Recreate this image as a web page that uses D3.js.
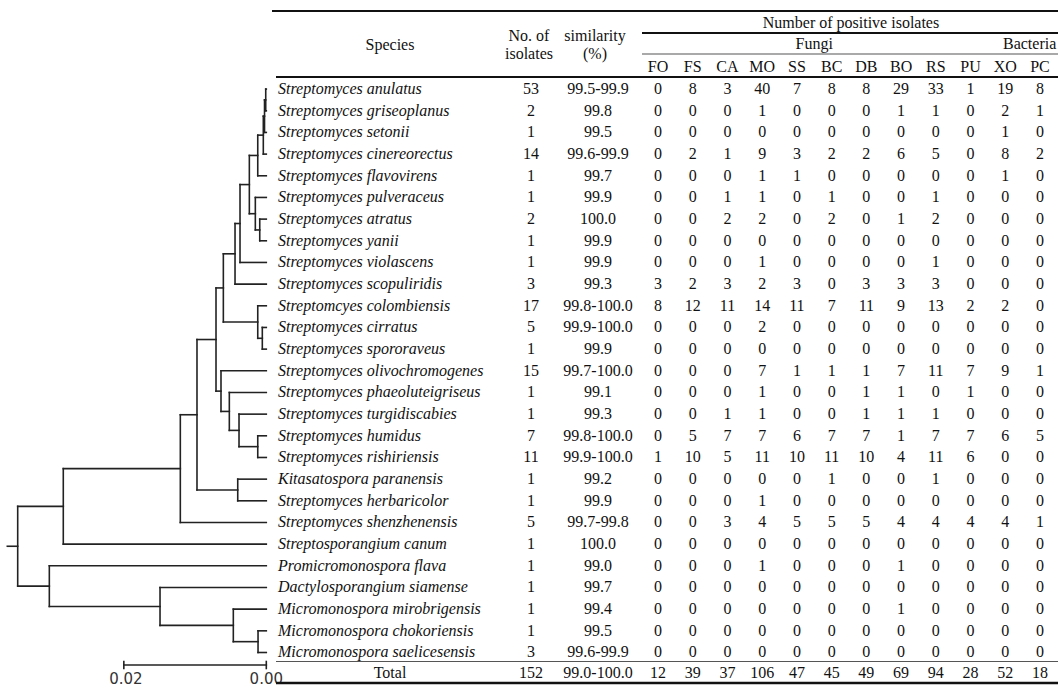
<!DOCTYPE html>
<html lang="en">
<head>
<meta charset="utf-8">
<title>Tree and antagonism table</title>
<script src="https://d3js.org/d3.v7.min.js"></script>
<style>
  body { margin: 0; background: #fff; }
  svg text { font-family: "Liberation Serif", "Times New Roman", serif; font-size: 16px; fill: #111; }
  .branch { stroke: #222; stroke-width: 1.6px; fill: none; stroke-linecap: square; }
  .sp { font-style: italic; }
  .bar text { font-family: "DejaVu Sans", sans-serif; font-size: 15px; fill: #333; }
</style>
</head>
<body>
<svg id="chart" width="1058" height="688"></svg>
<script>
// species in table / tree order
const species = [
  "Streptomyces anulatus", "Streptomyces griseoplanus", "Streptomyces setonii",
  "Streptomyces cinereorectus", "Streptomyces flavovirens", "Streptomyces pulveraceus",
  "Streptomyces atratus", "Streptomyces yanii", "Streptomyces violascens",
  "Streptomyces scopuliridis", "Streptomcyes colombiensis", "Streptomyces cirratus",
  "Streptomyces spororaveus", "Streptomyces olivochromogenes", "Streptomyces phaeoluteigriseus",
  "Streptomyces turgidiscabies", "Streptomyces humidus", "Streptomyces rishiriensis",
  "Kitasatospora paranensis", "Streptomyces herbaricolor", "Streptomyces shenzhenensis",
  "Streptosporangium canum", "Promicromonospora flava", "Dactylosporangium siamense",
  "Micromonospora mirobrigensis", "Micromonospora chokoriensis", "Micromonospora saelicesensis"
];
const isolates = [53, 2, 1, 14, 1, 1, 2, 1, 1, 3, 17, 5, 1, 15, 1, 1, 7, 11, 1, 1, 5, 1, 1, 1, 1, 1, 3];
const similarity = ["99.5-99.9", "99.8", "99.5", "99.6-99.9", "99.7", "99.9", "100.0", "99.9", "99.9",
  "99.3", "99.8-100.0", "99.9-100.0", "99.9", "99.7-100.0", "99.1", "99.3", "99.8-100.0", "99.9-100.0",
  "99.2", "99.9", "99.7-99.8", "100.0", "99.0", "99.7", "99.4", "99.5", "99.6-99.9"];

// pathogen columns
const fungi = ["FO", "FS", "CA", "MO", "SS", "BC", "DB", "BO", "RS", "PU"];
const bacteria = ["XO", "PC"];
const targets = fungi.concat(bacteria);

// number of positive isolates, one row per species (FO .. PC)
const positives = [
  [0, 8, 3, 40, 7, 8, 8, 29, 33, 1, 19, 8],
  [0, 0, 0, 1, 0, 0, 0, 1, 1, 0, 2, 1],
  [0, 0, 0, 0, 0, 0, 0, 0, 0, 0, 1, 0],
  [0, 2, 1, 9, 3, 2, 2, 6, 5, 0, 8, 2],
  [0, 0, 0, 1, 1, 0, 0, 0, 0, 0, 1, 0],
  [0, 0, 1, 1, 0, 1, 0, 0, 1, 0, 0, 0],
  [0, 0, 2, 2, 0, 2, 0, 1, 2, 0, 0, 0],
  [0, 0, 0, 0, 0, 0, 0, 0, 0, 0, 0, 0],
  [0, 0, 0, 1, 0, 0, 0, 0, 1, 0, 0, 0],
  [3, 2, 3, 2, 3, 0, 3, 3, 3, 0, 0, 0],
  [8, 12, 11, 14, 11, 7, 11, 9, 13, 2, 2, 0],
  [0, 0, 0, 2, 0, 0, 0, 0, 0, 0, 0, 0],
  [0, 0, 0, 0, 0, 0, 0, 0, 0, 0, 0, 0],
  [0, 0, 0, 7, 1, 1, 1, 7, 11, 7, 9, 1],
  [0, 0, 0, 1, 0, 0, 1, 1, 0, 1, 0, 0],
  [0, 0, 1, 1, 0, 0, 1, 1, 1, 0, 0, 0],
  [0, 5, 7, 7, 6, 7, 7, 1, 7, 7, 6, 5],
  [1, 10, 5, 11, 10, 11, 10, 4, 11, 6, 0, 0],
  [0, 0, 0, 0, 0, 1, 0, 0, 1, 0, 0, 0],
  [0, 0, 0, 1, 0, 0, 0, 0, 0, 0, 0, 0],
  [0, 0, 3, 4, 5, 5, 5, 4, 4, 4, 4, 1],
  [0, 0, 0, 0, 0, 0, 0, 0, 0, 0, 0, 0],
  [0, 0, 0, 1, 0, 0, 0, 1, 0, 0, 0, 0],
  [0, 0, 0, 0, 0, 0, 0, 0, 0, 0, 0, 0],
  [0, 0, 0, 0, 0, 0, 0, 1, 0, 0, 0, 0],
  [0, 0, 0, 0, 0, 0, 0, 0, 0, 0, 0, 0],
  [0, 0, 0, 0, 0, 0, 0, 0, 0, 0, 0, 0]
];
const totalIsolates = 152;
const totalSimilarity = "99.0-100.0";
const totals = [12, 39, 37, 106, 47, 45, 49, 69, 94, 28, 52, 18];

// tree: [node, parent, distance from root]
const treeNodes = [
  ["root", "", 0],
  ["n11", "root", 0.00640], ["p", "root", 0.00444],
  ["n10", "n11", 0.02283], ["n9", "n10", 0.02517], ["n8", "n9", 0.02784],
  ["n7", "n8", 0.02887], ["n6", "n7", 0.03051], ["n5", "n6", 0.03121],
  ["n4", "n5", 0.03252], ["n3", "n4", 0.03370], ["n2", "n3", 0.03448],
  ["n1b", "n2", 0.03465], ["n1a", "n1b", 0.03482],
  ["m", "n4", 0.03336], ["m2", "m", 0.03398],
  ["c", "n7", 0.03370], ["c2", "c", 0.03434],
  ["o1", "n8", 0.02854], ["o2", "o1", 0.02971], ["o3", "o2", 0.03107], ["o4", "o3", 0.03370],
  ["k", "n9", 0.03089],
  ["d", "p", 0.01998], ["mi", "d", 0.03027], ["mi2", "mi", 0.03374]
];
const tipDepth = 0.03490;
const tipParent = ["n1a", "n1a", "n1b", "n2", "n3", "m", "m2", "m2", "n5", "n6", "c", "c2", "c2",
  "o1", "o2", "o3", "o4", "o4", "k", "k", "n10", "n11", "p", "d", "mi", "mi2", "mi2"];
const rootStem = 0.00146;
const scaleBarLength = 0.02;
</script>
<script>
const svg = d3.select("#chart");

const rowY = d3.scalePoint().domain(species).range([88.3, 651.7]);
const colX = d3.scalePoint().domain(targets).range([658, 1040]);
const treeX = d3.scaleLinear().domain([0, tipDepth]).range([17.7, 266.3]);

// ---------- tree ----------
const flat = treeNodes.map(d => ({id: d[0], parent: d[1] || null, depth: d[2]}))
  .concat(species.map((s, i) => ({id: s, parent: tipParent[i], depth: tipDepth})));
const root = d3.stratify().id(d => d.id).parentId(d => d.parent)(flat);

root.eachAfter(n => {
  if (!n.children) n.y = rowY(n.id) + 0.8;
  else {
    const ys = n.children.map(c => c.y);
    n.y = (d3.min(ys) + d3.max(ys)) / 2;
  }
  n.x = treeX(n.data.depth);
});

const gTree = svg.append("g");
// horizontal branches
gTree.selectAll("line.h")
  .data(root.descendants().filter(n => n.parent))
  .join("line")
  .attr("class", "branch")
  .attr("x1", n => n.parent.x).attr("x2", n => n.x)
  .attr("y1", n => n.y).attr("y2", n => n.y);
// vertical connectors
gTree.selectAll("line.v")
  .data(root.descendants().filter(n => n.children))
  .join("line")
  .attr("class", "branch")
  .attr("x1", n => n.x).attr("x2", n => n.x)
  .attr("y1", n => d3.min(n.children, c => c.y))
  .attr("y2", n => d3.max(n.children, c => c.y));
// root stem
gTree.append("line").attr("class", "branch")
  .attr("x1", treeX(-rootStem)).attr("x2", root.x)
  .attr("y1", root.y).attr("y2", root.y);

// scale bar
const bar = svg.append("g").attr("class", "bar");
const bx0 = treeX(tipDepth - scaleBarLength), bx1 = treeX(tipDepth), by = 665;
bar.append("line").attr("class", "branch").attr("x1", bx0).attr("x2", bx1).attr("y1", by).attr("y2", by);
[bx0, bx1].forEach(x => bar.append("line").attr("class", "branch")
  .attr("x1", x).attr("x2", x).attr("y1", by - 3.5).attr("y2", by + 3.5));
bar.append("text").attr("x", bx0 + 2).attr("y", 684).attr("text-anchor", "middle").text(scaleBarLength.toFixed(2));
bar.append("text").attr("x", bx1).attr("y", 684).attr("text-anchor", "middle").text((0).toFixed(2));

// ---------- table ----------
const tLeft = 276, tRight = 1058, subLeft = 642;
const xSpecies = 278, xSpeciesMid = 390, xIso = 531, xSim = 598;
const rule = (x1, y, w, c) => svg.append("line")
  .attr("x1", x1).attr("x2", tRight).attr("y1", y).attr("y2", y)
  .attr("stroke", c || "#111").attr("stroke-width", w);

rule(tLeft - 4, 11, 2.2);
rule(subLeft, 33, 1.8);
rule(subLeft, 54, 1.1, "#555");
rule(tLeft, 77, 2);
rule(tLeft, 661.5, 1.1, "#555");
rule(tLeft, 683, 2.4);

const txt = (x, y, s, cls) => svg.append("text")
  .attr("x", x).attr("y", y).attr("dy", "0.35em")
  .attr("text-anchor", "middle").attr("class", cls || null).text(s);

txt(xSpeciesMid, 44, "Species");
txt(xIso - 2, 35, "No. of");
txt(xIso - 2, 53, "isolates");
txt(xSim - 3, 35, "similarity");
txt(xSim - 3, 53, "(%)");
txt((colX(targets[0]) + colX(targets[targets.length - 1])) / 2 + 2, 22.5, "Number of positive isolates");
txt((colX(fungi[0]) + colX(fungi[fungi.length - 1])) / 2, 43, "Fungi");
txt((colX(bacteria[0]) + colX(bacteria[1])) / 2 + 7, 43, "Bacteria");

svg.append("g").selectAll("text")
  .data(targets).join("text")
  .attr("x", d => colX(d)).attr("y", 66.5).attr("dy", "0.35em")
  .attr("text-anchor", "middle").text(d => d);

const rows = svg.append("g").selectAll("g")
  .data(species).join("g")
  .attr("transform", d => `translate(0,${rowY(d)})`);

rows.append("text").attr("class", "sp").attr("x", xSpecies).attr("dy", "0.35em").text(d => d);
rows.append("text").attr("x", xIso).attr("dy", "0.35em").attr("text-anchor", "middle").text((d, i) => isolates[i]);
rows.append("text").attr("x", xSim).attr("dy", "0.35em").attr("text-anchor", "middle").text((d, i) => similarity[i]);
rows.each(function(d, i) {
  d3.select(this).selectAll("text.v")
    .data(positives[i]).join("text")
    .attr("class", "v")
    .attr("x", (v, j) => colX(targets[j])).attr("dy", "0.35em")
    .attr("text-anchor", "middle").text(v => v);
});

const yTot = 672.5;
txt(xSpeciesMid, yTot, "Total");
txt(xIso, yTot, totalIsolates);
txt(xSim, yTot, totalSimilarity);
svg.append("g").selectAll("text")
  .data(totals).join("text")
  .attr("x", (v, j) => colX(targets[j])).attr("y", yTot).attr("dy", "0.35em")
  .attr("text-anchor", "middle").text(v => v);
</script>
</body>
</html>
